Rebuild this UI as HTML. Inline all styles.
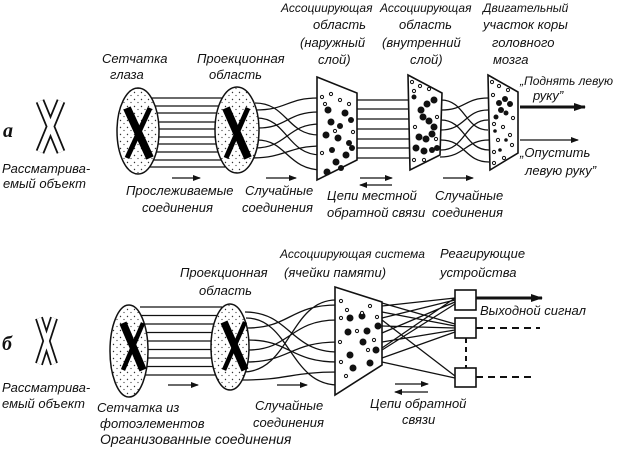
<!DOCTYPE html>
<html><head><meta charset="utf-8"><style>
html,body{margin:0;padding:0;background:#fff;}
svg{display:block;}
text{font-family:"Liberation Sans","DejaVu Sans",sans-serif;font-style:italic;font-size:13px;fill:#111;}
text.s{font-size:12px;}
</style></head><body>
<svg width="620" height="453" viewBox="0 0 620 453" xmlns="http://www.w3.org/2000/svg">
<defs>
<pattern id="st" width="7" height="7" patternUnits="userSpaceOnUse">
<rect width="7" height="7" fill="#fff"/>
<circle cx="1.5" cy="1.5" r="0.7" fill="#333"/><circle cx="5" cy="4.5" r="0.6" fill="#333"/>
</pattern>
<marker id="ah" markerWidth="8" markerHeight="6" refX="7" refY="3" orient="auto" markerUnits="userSpaceOnUse">
<path d="M0,0 L8,3 L0,6 Z" fill="#111"/></marker>
<marker id="ahb" markerWidth="12" markerHeight="8" refX="11" refY="4" orient="auto" markerUnits="userSpaceOnUse">
<path d="M0,0 L12,4 L0,8 Z" fill="#111"/></marker>
</defs>
<g stroke="#111" fill="none" stroke-width="1.3">
<path d="M145,98H225M145,106H225M145,113H225M145,122H225M145,129H225M145,137H225M145,144H225M145,152H225M145,160H225M145,167H225"/>
<path d="M255,103C287,103 287,135 319,135M255,110C287,110 287,98 318,98M257,118C287,118 287,155 321,155M258,128C287,128 287,112 319,112M257,140C287,140 287,170 323,170M255,148C287,148 287,124 320,124M250,158C287,158 287,146 322,146"/>
<path d="M357,100H409M357,109H409M357,119H409M357,129H410M357,139H410M357,148H411M357,158H411"/>
<path d="M441,100C465,100 465,130 488,130M441,110C465,110 465,98 488,98M441,120C465,120 465,150 489,150M441,130C465,130 465,110 488,110M441,140C465,140 465,162 489,162M441,150C465,150 465,120 488,120M440,157C465,157 465,140 489,140"/>
<path d="M140,307H222M140,315.5H222M140,324H222M140,332.5H222M140,341H222M140,349.5H222M140,358H222M140,366.5H222M140,375H222"/>
<path d="M246,318C290,318 290,385 338,385M247,328C290,328 290,305 337,305M248,340C290,340 290,362 338,362M248,350C290,350 290,320 337,320M246,362C290,362 290,342 338,342M243,372C290,372 290,300 336,300M245,312C290,312 290,352 338,352M240,380C290,380 290,372 338,372"/>
<path d="M382,306L455,298M382,318L455,300M382,333L455,302M382,350L455,304M382,312L455,326M382,326L455,328M382,342L455,330M382,358L455,332M382,320L455,376M382,362L455,378M382,303L455,324M382,348L455,298"/>
</g>
<g stroke="#111" stroke-width="1.5" fill="url(#st)">
<ellipse cx="138" cy="131" rx="21" ry="43"/>
<ellipse cx="237" cy="130" rx="22" ry="43"/>
<ellipse cx="129" cy="351" rx="19" ry="46"/>
<ellipse cx="230" cy="347" rx="19" ry="43"/>
</g>
<g stroke="#000" stroke-linecap="butt">
<path d="M127,108L150,158" stroke-width="8"/><path d="M150,108L127,158" stroke-width="5"/>
<path d="M226,108L248,158" stroke-width="8"/><path d="M248,108L226,158" stroke-width="5"/>
<path d="M123,323L143,370" stroke-width="7.5"/><path d="M143,323L123,370" stroke-width="4.5"/>
<path d="M224,322L245,370" stroke-width="7.5"/><path d="M245,322L224,370" stroke-width="4.5"/>
</g>
<g stroke-linecap="butt">
<path d="M40,101L61,152M61,101L40,152" stroke="#111" stroke-width="9"/>
<path d="M40,101L61,152M61,101L40,152" stroke="#fff" stroke-width="5.5"/>
<path d="M39,318L54,364M54,318L39,364" stroke="#111" stroke-width="8"/>
<path d="M39,318L54,364M54,318L39,364" stroke="#fff" stroke-width="4.5"/>
</g>
<g stroke="#111" stroke-width="1.6" fill="#fff">
<polygon points="317,77 357,93 357,160 317,180"/>
<polygon points="408,75 442,93 440,155 410,170"/>
<polygon points="488,75 518,92 518,153 490,170"/>
<polygon points="335,287 382,302 382,365 335,395"/>
</g>
<g fill="#111">
<circle cx="328" cy="110" r="3.5"/><circle cx="345" cy="113" r="3.5"/><circle cx="331" cy="122" r="3.5"/><circle cx="340" cy="126" r="3"/><circle cx="351" cy="120" r="3"/><circle cx="326" cy="135" r="3.5"/><circle cx="338" cy="138" r="3.5"/><circle cx="349" cy="143" r="3"/><circle cx="332" cy="150" r="3"/><circle cx="346" cy="155" r="3.5"/><circle cx="336" cy="162" r="3.5"/><circle cx="341" cy="168" r="3"/><circle cx="327" cy="172" r="3.5"/><circle cx="352" cy="148" r="3"/>
<circle cx="434" cy="100" r="3.5"/><circle cx="427" cy="104" r="3.5"/><circle cx="421" cy="110" r="3.5"/><circle cx="423" cy="117" r="3.5"/><circle cx="429" cy="121" r="3.5"/><circle cx="434" cy="127" r="3.5"/><circle cx="432" cy="134" r="3.5"/><circle cx="426" cy="139" r="3.5"/><circle cx="419" cy="137" r="3.5"/><circle cx="416" cy="148" r="3.5"/><circle cx="424" cy="151" r="3.5"/><circle cx="432" cy="150" r="3"/><circle cx="437" cy="148" r="3"/><circle cx="414" cy="97" r="2.5"/>
<circle cx="499" cy="103" r="3"/><circle cx="505" cy="99" r="3"/><circle cx="510" cy="104" r="3"/><circle cx="501" cy="110" r="3"/><circle cx="506" cy="113" r="2.5"/><circle cx="496" cy="117" r="2.5"/><circle cx="495" cy="131" r="1.8"/><circle cx="506" cy="140" r="1.8"/><circle cx="500" cy="150" r="1.8"/>
<circle cx="350" cy="318" r="3.5"/><circle cx="362" cy="316" r="3.5"/><circle cx="378" cy="326" r="3.5"/><circle cx="348" cy="332" r="3.5"/><circle cx="367" cy="331" r="3.5"/><circle cx="363" cy="342" r="3.5"/><circle cx="376" cy="350" r="3.5"/><circle cx="350" cy="355" r="3.5"/><circle cx="370" cy="363" r="3.5"/><circle cx="353" cy="368" r="3.5"/>
</g>
<g fill="#fff" stroke="#111" stroke-width="1">
<circle cx="322" cy="97" r="1.6"/><circle cx="331" cy="94" r="1.6"/><circle cx="340" cy="100" r="1.6"/><circle cx="325" cy="104" r="1.6"/><circle cx="349" cy="104" r="1.6"/><circle cx="335" cy="131" r="1.6"/><circle cx="322" cy="153" r="1.6"/><circle cx="353" cy="132" r="1.6"/>
<circle cx="412" cy="82" r="1.6"/><circle cx="420" cy="86" r="1.6"/><circle cx="429" cy="89" r="1.6"/><circle cx="414" cy="91" r="1.6"/><circle cx="415" cy="127" r="1.6"/><circle cx="437" cy="117" r="1.6"/><circle cx="414" cy="160" r="1.6"/><circle cx="424" cy="160" r="1.6"/><circle cx="436" cy="139" r="1.6"/>
<circle cx="492" cy="82" r="1.6"/><circle cx="499" cy="86" r="1.6"/><circle cx="508" cy="90" r="1.6"/><circle cx="493" cy="95" r="1.6"/><circle cx="513" cy="118" r="1.6"/><circle cx="494" cy="124" r="1.6"/><circle cx="503" cy="127" r="1.6"/><circle cx="510" cy="135" r="1.6"/><circle cx="498" cy="140" r="1.6"/><circle cx="512" cy="145" r="1.6"/><circle cx="494" cy="152" r="1.6"/><circle cx="504" cy="158" r="1.6"/><circle cx="494" cy="163" r="1.6"/>
<circle cx="341" cy="301" r="1.6"/><circle cx="347" cy="310" r="1.6"/><circle cx="341" cy="318" r="1.6"/><circle cx="370" cy="306" r="1.6"/><circle cx="377" cy="317" r="1.6"/><circle cx="357" cy="331" r="1.6"/><circle cx="340" cy="342" r="1.6"/><circle cx="368" cy="350" r="1.6"/><circle cx="341" cy="362" r="1.6"/><circle cx="346" cy="376" r="1.6"/><circle cx="362" cy="313" r="1.6"/><circle cx="374" cy="340" r="1.6"/>
</g>
<g stroke="#111" stroke-width="1.6" fill="#fff">
<rect x="455" y="290" width="21" height="20"/><rect x="455" y="318" width="21" height="20"/><rect x="455" y="368" width="21" height="19"/>
</g>
<g stroke="#111" stroke-width="2" stroke-dasharray="7,5" fill="none">
<path d="M476,328H540M476,377H535"/><path d="M466,338V368" stroke-dasharray="5,4"/>
</g>
<g stroke="#111" fill="none">
<path d="M520,107H585" stroke-width="3" marker-end="url(#ahb)"/>
<path d="M520,140H578" stroke-width="1.3" marker-end="url(#ah)"/>
<path d="M476,298H542" stroke-width="3" marker-end="url(#ahb)"/>
<path d="M172,178H200" stroke-width="1.3" marker-end="url(#ah)"/>
<path d="M266,178H296" stroke-width="1.3" marker-end="url(#ah)"/>
<path d="M360,178H392" stroke-width="1.3" marker-end="url(#ah)"/>
<path d="M392,185H360" stroke-width="1.3" marker-end="url(#ah)"/>
<path d="M443,178H473" stroke-width="1.3" marker-end="url(#ah)"/>
<path d="M168,385H198" stroke-width="1.3" marker-end="url(#ah)"/>
<path d="M277,385H307" stroke-width="1.3" marker-end="url(#ah)"/>
<path d="M395,384H428" stroke-width="1.3" marker-end="url(#ah)"/>
<path d="M428,392H395" stroke-width="1.3" marker-end="url(#ah)"/>
</g>
<g>
<text x="3" y="137" style="font-family:'Liberation Serif',serif;font-weight:bold;font-size:20px">а</text>
<text class="s" x="281" y="12">Ассоциирующая</text>
<text x="313" y="29">область</text>
<text x="300" y="47">(наружный</text>
<text x="318" y="64">слой)</text>
<text class="s" x="380" y="12">Ассоциирующая</text>
<text x="399" y="29">область</text>
<text x="382" y="47">(внутренний</text>
<text x="410" y="64">слой)</text>
<text class="s" x="483" y="12">Двигательный</text>
<text x="483" y="29">участок коры</text>
<text x="492" y="47">головного</text>
<text x="493" y="64">мозга</text>
<text x="102" y="63">Сетчатка</text>
<text x="110" y="79">глаза</text>
<text x="197" y="63">Проекционная</text>
<text x="209" y="79">область</text>
<text x="2" y="173">Рассматрива-</text>
<text x="3" y="188">емый объект</text>
<text x="126" y="195">Прослеживаемые</text>
<text x="142" y="212">соединения</text>
<text x="245" y="195">Случайные</text>
<text x="242" y="212">соединения</text>
<text x="327" y="200">Цепи  местной</text>
<text x="327" y="217">обратной связи</text>
<text x="435" y="200">Случайные</text>
<text x="432" y="217">соединения</text>
<text class="s" x="520" y="85">„Поднять левую</text>
<text x="533" y="100">руку”</text>
<text x="520" y="157">„Опустить</text>
<text x="525" y="175">левую руку”</text>
<text x="2" y="350" style="font-family:'Liberation Serif',serif;font-weight:bold;font-size:20px">б</text>
<text class="s" x="280" y="258">Ассоциирующая система</text>
<text x="284" y="277">(ячейки памяти)</text>
<text x="440" y="258">Реагирующие</text>
<text x="440" y="277">устройства</text>
<text x="180" y="277">Проекционная</text>
<text x="199" y="295">область</text>
<text x="480" y="315">Выходной сигнал</text>
<text x="2" y="392">Рассматрива-</text>
<text x="2" y="408">емый объект</text>
<text x="97" y="412">Сетчатка из</text>
<text x="100" y="428">фотоэлементов</text>
<text x="100" y="444" style="font-size:14px">Организованные соединения</text>
<text x="255" y="410">Случайные</text>
<text x="253" y="427">соединения</text>
<text x="370" y="408">Цепи обратной</text>
<text x="402" y="424">связи</text>
</g>
</svg>
</body></html>
